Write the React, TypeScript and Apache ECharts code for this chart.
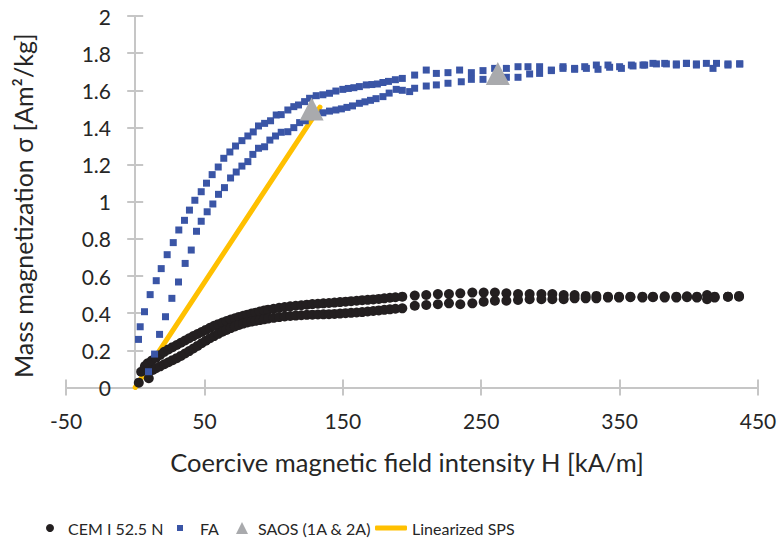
import React, { useEffect, useRef } from "react";
import * as echarts from "echarts";

// ---- axis settings ----
const xMin = -50;
const xMax = 450;
const xStep = 100;
const yMin = 0;
const yMax = 2;
const yStep = 0.2;

// ---- series names ----
const seriesNames = ["CEM I 52.5 N", "FA", "SAOS (1A & 2A)", "Linearized SPS"];

// ---- CEM I 52.5 N (two measured branches) ----
const cemUpper: number[][] = [
  [2.6, 0.026], [4.3, 0.085], [7, 0.115], [9, 0.13], [12, 0.145], [15, 0.16], [18, 0.175],
  [21, 0.192], [24, 0.205], [27, 0.217], [30, 0.229], [33, 0.241], [36, 0.253], [39, 0.265],
  [42, 0.277], [45, 0.288], [48, 0.299], [51, 0.31], [54, 0.321], [57, 0.332], [60, 0.341],
  [63, 0.35], [66, 0.358], [69, 0.366], [72, 0.373], [75, 0.38], [78, 0.386], [81, 0.392],
  [84, 0.398], [87, 0.403], [90, 0.409], [93, 0.414], [96, 0.419], [100, 0.424], [104, 0.429],
  [108, 0.433], [112, 0.437], [116, 0.44], [120, 0.443], [124, 0.446], [128, 0.449], [132, 0.451],
  [136, 0.453], [140, 0.455], [144, 0.457], [148, 0.46], [152, 0.462], [156, 0.465], [160, 0.467],
  [164, 0.47], [168, 0.472], [172, 0.474], [176, 0.477], [180, 0.48], [184, 0.483], [188, 0.486],
  [193, 0.489], [202, 0.495], [210.3, 0.498], [218.7, 0.503], [226.7, 0.503], [234.9, 0.507],
  [243.6, 0.511], [251.8, 0.511], [259.9, 0.511], [268.2, 0.507], [276.6, 0.503], [285, 0.503],
  [293.5, 0.503], [301.4, 0.503], [309.6, 0.498], [317.5, 0.498], [325.5, 0.493], [333.2, 0.493],
  [341.6, 0.489], [349.6, 0.489], [357.8, 0.489], [366.5, 0.489], [374.1, 0.489], [382.6, 0.491],
  [391, 0.489], [398.7, 0.491], [405.9, 0.489], [413.2, 0.498], [418.7, 0.489], [428.3, 0.489],
  [436.3, 0.493],
];
const cemLower: number[][] = [
  [9.8, 0.05], [12.7, 0.094], [15, 0.104], [18, 0.114], [21, 0.125], [24, 0.136], [27, 0.147],
  [30, 0.158], [33, 0.17], [36, 0.183], [39, 0.196], [42, 0.21], [45, 0.224], [48, 0.238],
  [51, 0.252], [54, 0.265], [57, 0.277], [60, 0.289], [63, 0.3], [66, 0.31], [69, 0.32],
  [72, 0.329], [75, 0.337], [78, 0.344], [81, 0.35], [84, 0.355], [87, 0.359], [90, 0.363],
  [93, 0.367], [96, 0.371], [100, 0.375], [104, 0.379], [108, 0.382], [112, 0.385], [116, 0.387],
  [120, 0.389], [124, 0.391], [128, 0.392], [132, 0.393], [136, 0.394], [140, 0.395], [144, 0.396],
  [148, 0.398], [152, 0.4], [156, 0.402], [160, 0.404], [164, 0.406], [168, 0.409], [172, 0.412],
  [176, 0.415], [180, 0.418], [184, 0.421], [188, 0.424], [193, 0.426], [202, 0.44], [210.3, 0.444],
  [218.7, 0.448], [226.7, 0.453], [234.9, 0.448], [243.6, 0.453], [251.8, 0.462], [259.9, 0.467],
  [268.2, 0.467], [276.6, 0.471], [285, 0.475], [293.5, 0.475], [301.4, 0.475], [309.6, 0.475],
  [317.5, 0.48], [325.5, 0.48], [333.2, 0.48], [341.6, 0.484], [349.6, 0.484], [357.8, 0.486],
  [366.5, 0.484], [374.1, 0.486], [382.6, 0.484], [391, 0.484], [398.7, 0.486], [405.9, 0.484],
  [413.2, 0.475], [418.7, 0.484], [428.3, 0.489], [436.3, 0.489],
];

// ---- FA (two measured branches) ----
const faUpper: number[][] = [
  [2.4, 0.259], [3.6, 0.327], [6.7, 0.408], [10.8, 0.5], [15.2, 0.575], [18.8, 0.64], [23.1, 0.715],
  [27.5, 0.78], [31.5, 0.848], [35.6, 0.9], [39.2, 0.955], [43.1, 1.008], [47.7, 1.054], [51.5, 1.1],
  [55.6, 1.146], [60, 1.187], [64, 1.234], [68.4, 1.268], [72.5, 1.3], [77.1, 1.329], [81.4, 1.354],
  [85.3, 1.376], [89.1, 1.408], [93.5, 1.422], [97.8, 1.436], [101.9, 1.467], [105.5, 1.469],
  [110.3, 1.494], [114.6, 1.512], [118, 1.521], [122.4, 1.539], [126, 1.557], [130.8, 1.571],
  [135.6, 1.576], [140.4, 1.584], [145, 1.596], [150, 1.605], [154, 1.61], [158, 1.614], [162, 1.62],
  [167, 1.629], [171, 1.631], [175, 1.634], [179, 1.642], [183, 1.648], [188, 1.657], [193, 1.664],
  [201.9, 1.682], [210.3, 1.709], [217.6, 1.691], [226, 1.695], [234.4, 1.709], [242.9, 1.695],
  [251.3, 1.706], [259.7, 1.718], [268.2, 1.718], [276.6, 1.727], [283.8, 1.727], [292.2, 1.727],
  [300.7, 1.709], [309.1, 1.727], [317.5, 1.718], [324.8, 1.727], [333.2, 1.736], [341.6, 1.736],
  [350, 1.727], [358.5, 1.736], [366.9, 1.736], [374.1, 1.745], [382.6, 1.745], [391, 1.736],
  [398.3, 1.745], [405.5, 1.742], [412.7, 1.745], [420, 1.745], [428.3, 1.736], [436.8, 1.742],
];
const faLower: number[][] = [
  [9.6, 0.085], [14, 0.18], [17.6, 0.286], [21.9, 0.381], [26.5, 0.48], [31.3, 0.568], [36.1, 0.668],
  [40.5, 0.74], [44.3, 0.841], [47.7, 0.895], [52, 0.946], [56.1, 0.988], [60.2, 1.04], [64.5, 1.076],
  [68.9, 1.128], [73, 1.16], [77.1, 1.192], [81.4, 1.216], [85, 1.255], [89.1, 1.288], [93.5, 1.296],
  [97.3, 1.332], [101.4, 1.354], [105.5, 1.374], [110.3, 1.377], [114.6, 1.399], [118.8, 1.426],
  [122.9, 1.436], [126.7, 1.458], [130.8, 1.467], [135.6, 1.479], [140.4, 1.488], [145, 1.494],
  [149, 1.5], [153, 1.508], [157, 1.516], [162, 1.53], [166, 1.538], [170, 1.546], [174, 1.555],
  [179, 1.566], [183.5, 1.585], [188.6, 1.605], [193, 1.6], [198.3, 1.593], [201.9, 1.611],
  [210.3, 1.623], [217.6, 1.629], [226, 1.638], [235.6, 1.646], [242.9, 1.659], [251.3, 1.659],
  [259.7, 1.665], [268.2, 1.67], [276.6, 1.67], [285, 1.688], [292.2, 1.691], [300.7, 1.706],
  [309.1, 1.718], [317.5, 1.713], [326, 1.718], [334.4, 1.713], [342.8, 1.724], [351.3, 1.718],
  [359.7, 1.731], [368.1, 1.736], [376.6, 1.742], [383.8, 1.742], [391, 1.742], [398.3, 1.745],
  [405.5, 1.736], [417.5, 1.718], [428.3, 1.742], [436.8, 1.742],
];

// ---- SAOS (1A & 2A) ----
const saos: number[][] = [
  [127.5, 1.5],
  [262, 1.69],
];

// ---- Linearized SPS ----
const sps: number[][] = [
  [0, 0],
  [133.5, 1.51],
];

const FONT = "Lato, 'Open Sans', sans-serif";
const TEXT = "#262626";
const AXIS = "#c6c6c6";
const CEM_COLOR = "#231f20";
const FA_COLOR = "#3a55a6";
const SAOS_COLOR = "#a9aaad";
const SPS_COLOR = "#ffc000";

export default function App() {
  const ref = useRef<HTMLDivElement>(null);

  useEffect(() => {
    document.body.style.margin = "0";
    if (!ref.current) return;
    const chart = echarts.init(ref.current, null, { renderer: "svg" });

    const axisLine = { show: true, onZero: true, lineStyle: { color: AXIS, width: 2 } };
    const tickStyle = { color: AXIS, width: 2 };

    const legendText = (padLeft: number) => ({
      color: TEXT,
      fontFamily: FONT,
      fontSize: 16,
      lineHeight: 20,
      padding: [0, 0, 0, padLeft],
    });
    const legendBase = {
      top: 518,
      padding: 0,
      selectedMode: false,
      symbolKeepAspect: true,
    };

    chart.setOption({
      animation: false,
      backgroundColor: "#ffffff",
      grid: {
        left: 66,
        right: 21,
        top: 16,
        bottom: 156.5,
        containLabel: false,
        outerBoundsMode: "none",
      },
      xAxis: [
        {
          type: "value",
          min: xMin,
          max: xMax,
          interval: xStep,
          position: "bottom",
          axisLine,
          axisTick: { show: true, length: 8, lineStyle: tickStyle },
          splitLine: { show: false },
          axisLabel: { margin: 22, fontSize: 21, color: TEXT, fontFamily: FONT },
          name: "Coercive magnetic field intensity H [kA/m]",
          nameLocation: "middle",
          nameGap: 61,
          nameTextStyle: { fontSize: 25.5, color: TEXT, fontFamily: FONT, padding: [0, 10, 0, 0] },
        },
        {
          type: "value",
          min: xMin,
          max: xMax,
          interval: xStep,
          position: "bottom",
          axisLine,
          axisTick: { show: true, inside: true, length: 8, lineStyle: tickStyle },
          splitLine: { show: false },
          axisLabel: { show: false },
        },
      ],
      yAxis: [
        {
          type: "value",
          min: yMin,
          max: yMax,
          interval: yStep,
          position: "left",
          axisLine,
          axisTick: { show: true, length: 8, lineStyle: tickStyle },
          splitLine: { show: false },
          axisLabel: { margin: -45, fontSize: 21, color: TEXT, fontFamily: FONT },
          name: "Mass magnetization σ [Am²/kg]",
          nameLocation: "middle",
          nameRotate: 90,
          nameGap: 31,
          nameTextStyle: { fontSize: 25, color: TEXT, fontFamily: FONT, padding: [0, 8, 0, 0] },
        },
        {
          type: "value",
          min: yMin,
          max: yMax,
          interval: yStep,
          position: "left",
          axisLine,
          axisTick: { show: true, inside: true, length: 8, lineStyle: tickStyle },
          splitLine: { show: false },
          axisLabel: { show: false },
        },
      ],
      legend: [
        {
          ...legendBase,
          left: 46,
          itemWidth: 8,
          itemHeight: 8,
          textStyle: legendText(9),
          data: [{ name: seriesNames[0], icon: "circle" }],
        },
        {
          ...legendBase,
          left: 177,
          itemWidth: 6,
          itemHeight: 6,
          textStyle: legendText(12),
          data: [{ name: seriesNames[1], icon: "rect" }],
        },
        {
          ...legendBase,
          left: 236,
          itemWidth: 12,
          itemHeight: 12,
          textStyle: legendText(5),
          data: [{ name: seriesNames[2], icon: "triangle" }],
        },
        {
          ...legendBase,
          left: 375,
          itemWidth: 32,
          itemHeight: 5,
          textStyle: legendText(0),
          data: [{ name: seriesNames[3], icon: "roundRect", itemStyle: { color: SPS_COLOR } }],
        },
      ],
      series: [
        {
          name: seriesNames[3],
          type: "line",
          data: sps,
          showSymbol: false,
          symbol: "none",
          z: 1,
          lineStyle: { color: SPS_COLOR, width: 5, cap: "round" },
          itemStyle: { color: SPS_COLOR },
        },
        {
          name: seriesNames[0],
          type: "scatter",
          data: cemUpper,
          symbol: "circle",
          symbolSize: 10,
          z: 2,
          itemStyle: { color: CEM_COLOR, opacity: 1 },
        },
        {
          name: seriesNames[0],
          type: "scatter",
          data: cemLower,
          symbol: "circle",
          symbolSize: 10,
          z: 2,
          itemStyle: { color: CEM_COLOR, opacity: 1 },
        },
        {
          name: seriesNames[1],
          type: "scatter",
          data: faUpper,
          symbol: "rect",
          symbolSize: 7,
          z: 3,
          itemStyle: { color: FA_COLOR, opacity: 1 },
        },
        {
          name: seriesNames[1],
          type: "scatter",
          data: faLower,
          symbol: "rect",
          symbolSize: 7,
          z: 3,
          itemStyle: { color: FA_COLOR, opacity: 1 },
        },
        {
          name: seriesNames[2],
          type: "scatter",
          data: saos,
          symbol: "triangle",
          symbolSize: [24, 23],
          z: 4,
          itemStyle: { color: SAOS_COLOR, opacity: 1 },
        },
      ],
    });

    return () => {
      chart.dispose();
    };
  }, []);

  return <div ref={ref} style={{ width: 779, height: 544 }} />;
}
